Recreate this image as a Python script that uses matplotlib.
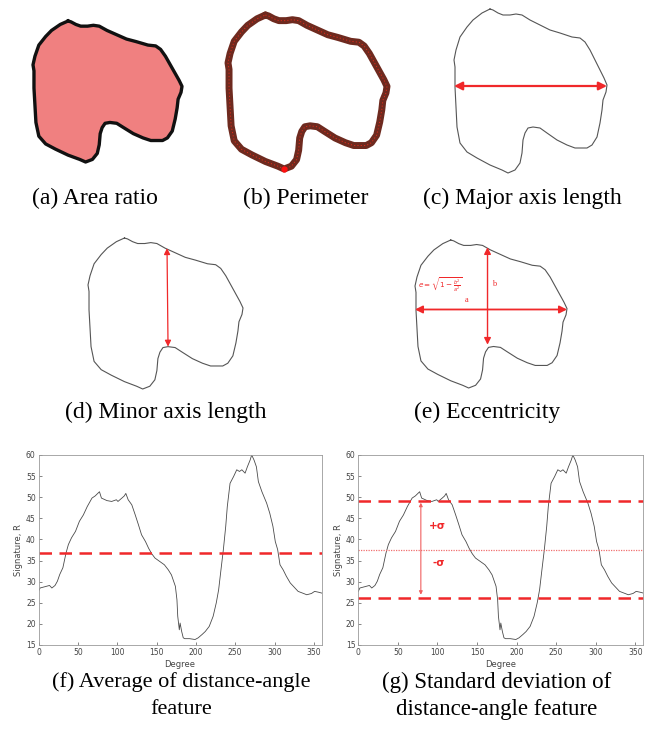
import numpy as np
import matplotlib.pyplot as plt

# contour of the segmented object (x right, y up)
outline_x = [36, 39, 44, 49, 56, 62, 68, 76, 86, 96, 106, 118, 126, 131, 136, 141, 146, 150, 153,
             152, 149, 148, 146, 143, 138, 133, 121, 113, 103, 93, 86, 79, 74, 71, 69, 68, 66,
             61, 54, 48, 36, 23, 13, 6, 3, 2, 1, 1, 0, 2, 6, 13, 19, 28]
outline_y = [164, 163, 160, 158, 158, 159, 158, 153, 148, 143, 140, 136, 135, 131, 123, 113, 103, 95, 88,
             81, 73, 63, 50, 36, 28, 25, 25, 28, 33, 40, 45, 46, 45, 40, 33, 20, 10,
             3, 0, 3, 8, 15, 21, 30, 46, 66, 86, 106, 113, 123, 136, 146, 153, 160]

# distance-angle signature
deg = [0, 2, 10, 14, 17, 21, 24, 27, 31, 35, 38, 42, 47, 52, 57, 62, 68, 72, 77.5, 80, 87, 93, 99,
       101, 106, 109, 111, 114, 118.6, 123, 127, 131, 136, 140, 144, 148, 154, 160, 165, 169, 174,
       176, 177, 179, 180, 182, 184, 186, 192, 199, 203, 208, 212, 217, 222, 226, 229, 232, 235,
       238, 240, 243.5, 248, 252, 255.5, 258.5, 262.6, 265.5, 269, 271, 274, 277, 279.5, 284, 290,
       294, 298, 301, 304, 307, 311, 315, 320, 326, 330, 337, 341, 347, 351, 356, 360]
signature = [27.7, 28.5, 28.9, 29.1, 28.5, 29.1, 30.1, 31.7, 33.3, 36.8, 38.8, 40.4, 41.9, 44.3, 45.8,
             47.8, 49.8, 50.3, 51.3, 49.8, 49.2, 49.0, 49.4, 49.0, 49.8, 50.3, 50.9, 49.4, 48.2, 45.8,
             43.5, 41.1, 39.5, 37.9, 36.6, 35.6, 34.8, 34.0, 32.8, 31.6, 28.9, 25.7, 21.8, 18.6, 20.2,
             18.2, 16.7, 16.5, 16.5, 16.3, 16.7, 17.5, 18.2, 19.4, 21.8, 25.0, 28.1, 32.9, 37.6, 43.1,
             47.8, 53.3, 54.9, 56.5, 56.1, 56.5, 55.7, 57.2, 58.8, 60.0, 58.8, 57.2, 53.7, 51.3, 48.6,
             46.2, 43.1, 39.5, 37.6, 34.0, 32.8, 31.3, 29.7, 28.5, 27.7, 27.2, 26.9, 27.2, 27.7, 27.5, 27.3]

avg_value = 36.9
std_mean = 37.6
std_sigma = 11.5

W, H = 649, 744
fig = plt.figure(figsize=(W / 100, H / 100), dpi=100)


def px_axes(x0, y0, x1, y1):
    # axes from a pixel box (top-left origin)
    return fig.add_axes([x0 / W, 1 - y1 / H, (x1 - x0) / W, (y1 - y0) / H])


def shape_axes(x0, y0, x1, y1):
    ax = px_axes(x0, y0, x1, y1)
    ax.set_xlim(min(outline_x), max(outline_x))
    ax.set_ylim(min(outline_y), max(outline_y))
    ax.axis('off')
    return ax


def caption(x, y, s, size=17):
    fig.text(x / W, 1 - y / H, s, ha='center', va='center', family='Liberation Serif', size=size)


cx = outline_x + outline_x[:1]
cy = outline_y + outline_y[:1]
red = '#f0282a'

# (a) area
ax = shape_axes(33, 21, 182, 162)
ax.fill(cx, cy, color='#f08080', zorder=1)
ax.plot(cx, cy, color='#111111', lw=2.4, clip_on=False, zorder=2)

# (b) perimeter
ax = shape_axes(228, 15, 387, 169)
ax.plot(cx, cy, color='#6e2a1f', lw=5, clip_on=False, solid_capstyle='round')
ax.plot(cx, cy, color='#e02a1a', lw=0.7, ls=(0, (1.2, 2.2)), clip_on=False)
ax.plot(outline_x[38], outline_y[38], 'o', color='#ff1010', ms=3.5, clip_on=False)

# (c) major axis
ax = shape_axes(454, 9, 607, 173)
ax.plot(cx, cy, color='#555555', lw=0.8, clip_on=False)
ax.annotate('', xy=(max(outline_x), 87), xytext=(min(outline_x), 87),
            arrowprops=dict(arrowstyle='<|-|>', color=red, lw=1.6, mutation_scale=12,
                            shrinkA=0, shrinkB=0))

# (d) minor axis
ax = shape_axes(88, 238, 243, 389)
ax.plot(cx, cy, color='#555555', lw=0.8, clip_on=False)
ax.annotate('', xy=(79, 46), xytext=(78, 153),
            arrowprops=dict(arrowstyle='<|-|>', color=red, lw=0.9, mutation_scale=9,
                            shrinkA=0, shrinkB=0))

# (e) eccentricity
ax = shape_axes(415, 240, 567, 388)
ax.plot(cx, cy, color='#555555', lw=0.8, clip_on=False)
ax.annotate('', xy=(max(outline_x), 87), xytext=(min(outline_x), 87),
            arrowprops=dict(arrowstyle='<|-|>', color=red, lw=1.3, mutation_scale=11,
                            shrinkA=0, shrinkB=0))
ax.annotate('', xy=(73, 48), xytext=(73, 156),
            arrowprops=dict(arrowstyle='<|-|>', color=red, lw=1.0, mutation_scale=10,
                            shrinkA=0, shrinkB=0))
ax.text(26, 115, r'$e=\sqrt{1-\frac{b^2}{a^2}}$', color=red, fontsize=5.2,
        ha='center', va='center', family='Liberation Serif')
ax.text(52, 98, 'a', color=red, fontsize=6, ha='center', va='center', family='Liberation Serif')
ax.text(80, 115, 'b', color=red, fontsize=6, ha='center', va='center', family='Liberation Serif')

# captions of the shape panels
caption(95, 198, '(a) Area ratio')
caption(306, 198, '(b) Perimeter')
caption(522, 198, '(c) Major axis length')
caption(166, 412, '(d) Minor axis length')
caption(487, 412, '(e) Eccentricity')


def signature_axes(x0, x1):
    ax = px_axes(x0, 455, x1, 645)
    ax.plot(deg, signature, color='#4a4a4a', lw=0.6)
    ax.set_xlim(0, 360)
    ax.set_ylim(15, 60)
    ax.set_xticks(range(0, 351, 50))
    ax.set_yticks(range(15, 61, 5))
    ax.tick_params(direction='in', length=2, width=0.5, colors='#555555',
                   labelsize=5.5, labelcolor='#444444', pad=2)
    for s in ax.spines.values():
        s.set_color('#9a9a9a')
        s.set_linewidth(0.6)
    ax.set_xlabel('Degree', fontsize=6, color='#444444', labelpad=2)
    ax.set_ylabel('Signature, R', fontsize=6, color='#444444', labelpad=2)
    return ax


# (f) average of the signature
ax = signature_axes(38.5, 321.7)
ax.axhline(avg_value, color=red, lw=1.8, ls=(0, (5, 3)))

# (g) standard deviation of the signature
ax = signature_axes(358.3, 643.3)
ax.axhline(std_mean, color='#f07070', lw=0.9, ls=(0, (1, 1)))
ax.axhline(std_mean + std_sigma, color=red, lw=1.8, ls=(0, (5, 3)), clip_on=False)
ax.axhline(std_mean - std_sigma, color=red, lw=1.8, ls=(0, (5, 3)), clip_on=False)
ax.annotate('', xy=(79, std_mean - std_sigma + 0.8), xytext=(79, std_mean + std_sigma - 0.4),
            arrowprops=dict(arrowstyle='<|-|>', color='#f06060', lw=0.8, mutation_scale=5,
                            shrinkA=0, shrinkB=0))
ax.text(100, 43.2, '+σ', color=red, fontsize=7.5, fontweight='bold', ha='center', va='center')
ax.text(101, 34.4, '-σ', color=red, fontsize=7.5, fontweight='bold', ha='center', va='center')

caption(181, 682, '(f) Average of distance-angle', size=16)
caption(181, 710, 'feature', size=16)
caption(497, 682, '(g) Standard deviation of', size=16.5)
caption(497, 710, 'distance-angle feature', size=16.5)

fig.savefig('out.png', dpi=100)
